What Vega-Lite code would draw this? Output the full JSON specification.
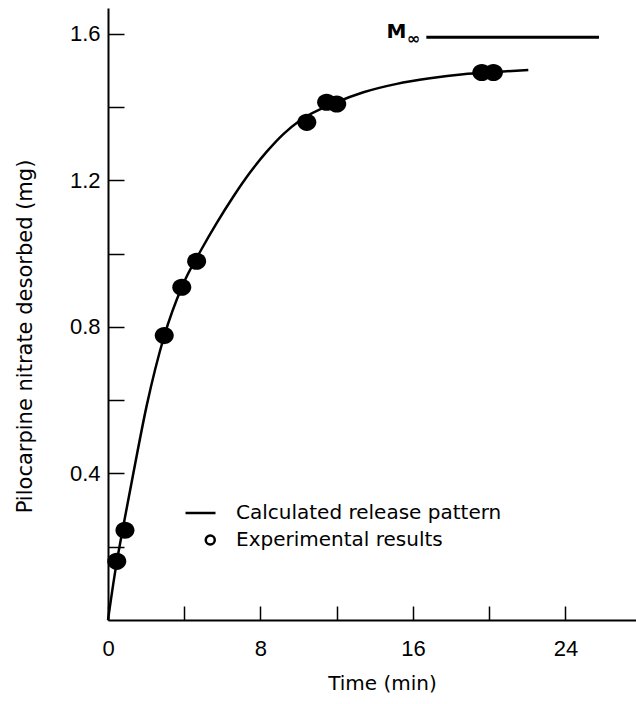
{
  "$schema": "https://vega.github.io/schema/vega-lite/v6.json",
  "width": 528,
  "height": 612,
  "autosize": {"type": "none"},
  "padding": {"left": 108, "top": 8, "right": 0, "bottom": 84},
  "background": "white",
  "config": {
    "view": {"stroke": null},
    "font": "DejaVu Sans",
    "axis": {
      "grid": false,
      "domainColor": "black",
      "domainWidth": 2,
      "tickColor": "black",
      "tickWidth": 1.5,
      "labelColor": "black",
      "labelFont": "Liberation Sans",
      "labelFontSize": 22,
      "labelOverlap": false,
      "labelFlush": false,
      "titleColor": "black",
      "titleFont": "DejaVu Sans",
      "titleFontWeight": "normal"
    }
  },
  "datasets": {
    "curve": [
      {"t": 0, "m": 0},
      {"t": 0.37, "m": 0.13},
      {"t": 0.89, "m": 0.28},
      {"t": 1.31, "m": 0.395},
      {"t": 2.03, "m": 0.585},
      {"t": 2.95, "m": 0.775},
      {"t": 3.87, "m": 0.908},
      {"t": 4.92, "m": 1.013},
      {"t": 5.70, "m": 1.083},
      {"t": 6.57, "m": 1.155},
      {"t": 7.45, "m": 1.221},
      {"t": 8.33, "m": 1.278},
      {"t": 9.20, "m": 1.326},
      {"t": 10.07, "m": 1.363},
      {"t": 11.91, "m": 1.411},
      {"t": 13.40, "m": 1.440},
      {"t": 15.15, "m": 1.463},
      {"t": 16.89, "m": 1.478},
      {"t": 18.64, "m": 1.489},
      {"t": 20.20, "m": 1.495},
      {"t": 22.05, "m": 1.501}
    ],
    "points": [
      {"t": 0.46, "m": 0.160},
      {"t": 0.89, "m": 0.245},
      {"t": 2.95, "m": 0.776},
      {"t": 3.87, "m": 0.908},
      {"t": 4.65, "m": 0.979},
      {"t": 10.43, "m": 1.358},
      {"t": 11.47, "m": 1.413},
      {"t": 12.0, "m": 1.408},
      {"t": 19.61, "m": 1.494},
      {"t": 20.22, "m": 1.494}
    ],
    "minf": [{"t": 16.7, "t2": 25.76, "m": 1.59}],
    "legend": [
      {"series": "Calculated release pattern"},
      {"series": "Experimental results"}
    ]
  },
  "layer": [
    {
      "data": {"name": "curve"},
      "mark": {"type": "line", "color": "black", "strokeWidth": 2.5, "interpolate": "monotone"},
      "encoding": {
        "x": {
          "field": "t", "type": "quantitative",
          "scale": {"domain": [0, 27.7], "nice": false, "zero": false},
          "axis": {
            "values": [0, 4, 8, 12, 16, 20, 24],
            "labelExpr": "datum.value % 8 === 0 ? datum.label : ''",
            "tickSize": -14,
            "labelPadding": 32,
            "title": "Time (min)",
            "titleFontSize": 20,
            "titleX": 274,
            "titleY": 69,
            "titleAlign": "center",
            "titleBaseline": "alphabetic"
          }
        },
        "y": {
          "field": "m", "type": "quantitative",
          "scale": {"domain": [0, 1.67], "nice": false, "zero": false},
          "axis": {
            "values": [0.2, 0.4, 0.6, 0.8, 1.0, 1.2, 1.4, 1.6],
            "labelExpr": "indexof(['0.4','0.8','1.2','1.6'], format(datum.value,'.1f')) >= 0 ? format(datum.value,'.1f') : ''",
            "tickSize": -16,
            "labelPadding": 24,
            "title": "Pilocarpine nitrate desorbed (mg)",
            "titleFontSize": 21,
            "titleAngle": -90,
            "titleX": -77,
            "titleY": 328,
            "titleAlign": "center",
            "titleBaseline": "alphabetic"
          }
        }
      }
    },
    {
      "data": {"name": "points"},
      "mark": {"type": "point", "filled": true, "color": "black", "opacity": 1, "size": 361,
               "shape": "M-1,0A1,0.9,0,1,0,1,0A1,0.9,0,1,0,-1,0Z"},
      "encoding": {
        "x": {"field": "t", "type": "quantitative", "scale": {"domain": [0, 27.7], "nice": false, "zero": false}},
        "y": {"field": "m", "type": "quantitative", "scale": {"domain": [0, 1.67], "nice": false, "zero": false}}
      }
    },
    {
      "data": {"name": "minf"},
      "mark": {"type": "rule", "color": "black", "strokeWidth": 3},
      "encoding": {
        "x": {"field": "t", "type": "quantitative", "scale": {"domain": [0, 27.7], "nice": false, "zero": false}},
        "x2": {"field": "t2"},
        "y": {"field": "m", "type": "quantitative", "scale": {"domain": [0, 1.67], "nice": false, "zero": false}}
      }
    },
    {
      "data": {"name": "minf"},
      "mark": {"type": "text", "text": "M", "font": "DejaVu Sans", "fontSize": 20, "fontWeight": "bold",
               "align": "right", "baseline": "alphabetic", "dx": -20, "dy": 1, "color": "black"},
      "encoding": {
        "x": {"field": "t", "type": "quantitative"},
        "y": {"field": "m", "type": "quantitative"}
      }
    },
    {
      "data": {"name": "minf"},
      "mark": {"type": "text", "text": "∞", "font": "DejaVu Sans", "fontSize": 16, "fontWeight": "bold",
               "align": "center", "baseline": "middle", "dx": -13, "dy": 2, "color": "black"},
      "encoding": {
        "x": {"field": "t", "type": "quantitative"},
        "y": {"field": "m", "type": "quantitative"}
      }
    },
    {
      "data": {"name": "legend"},
      "mark": {"type": "point", "filled": false, "color": "black", "opacity": 0, "strokeWidth": 2.5},
      "encoding": {
        "shape": {
          "field": "series", "type": "nominal",
          "scale": {
            "domain": ["Calculated release pattern", "Experimental results"],
            "range": ["M-2,0H2", "M0.7,0A0.6,0.6,0,1,0,1.9,0A0.6,0.6,0,1,0,0.7,0Z"]
          },
          "legend": {
            "orient": "none",
            "legendX": 82.5,
            "legendY": 495,
            "title": null,
            "padding": 0,
            "symbolSize": 225,
            "symbolStrokeWidth": 2.5,
            "symbolStrokeColor": "black",
            "symbolFillColor": "transparent",
            "symbolOpacity": 1,
            "labelFont": "DejaVu Sans",
            "labelFontSize": 20,
            "labelColor": "black",
            "labelOffset": 25.5,
            "rowPadding": 7,
            "labelLimit": 400
          }
        }
      }
    }
  ]
}
